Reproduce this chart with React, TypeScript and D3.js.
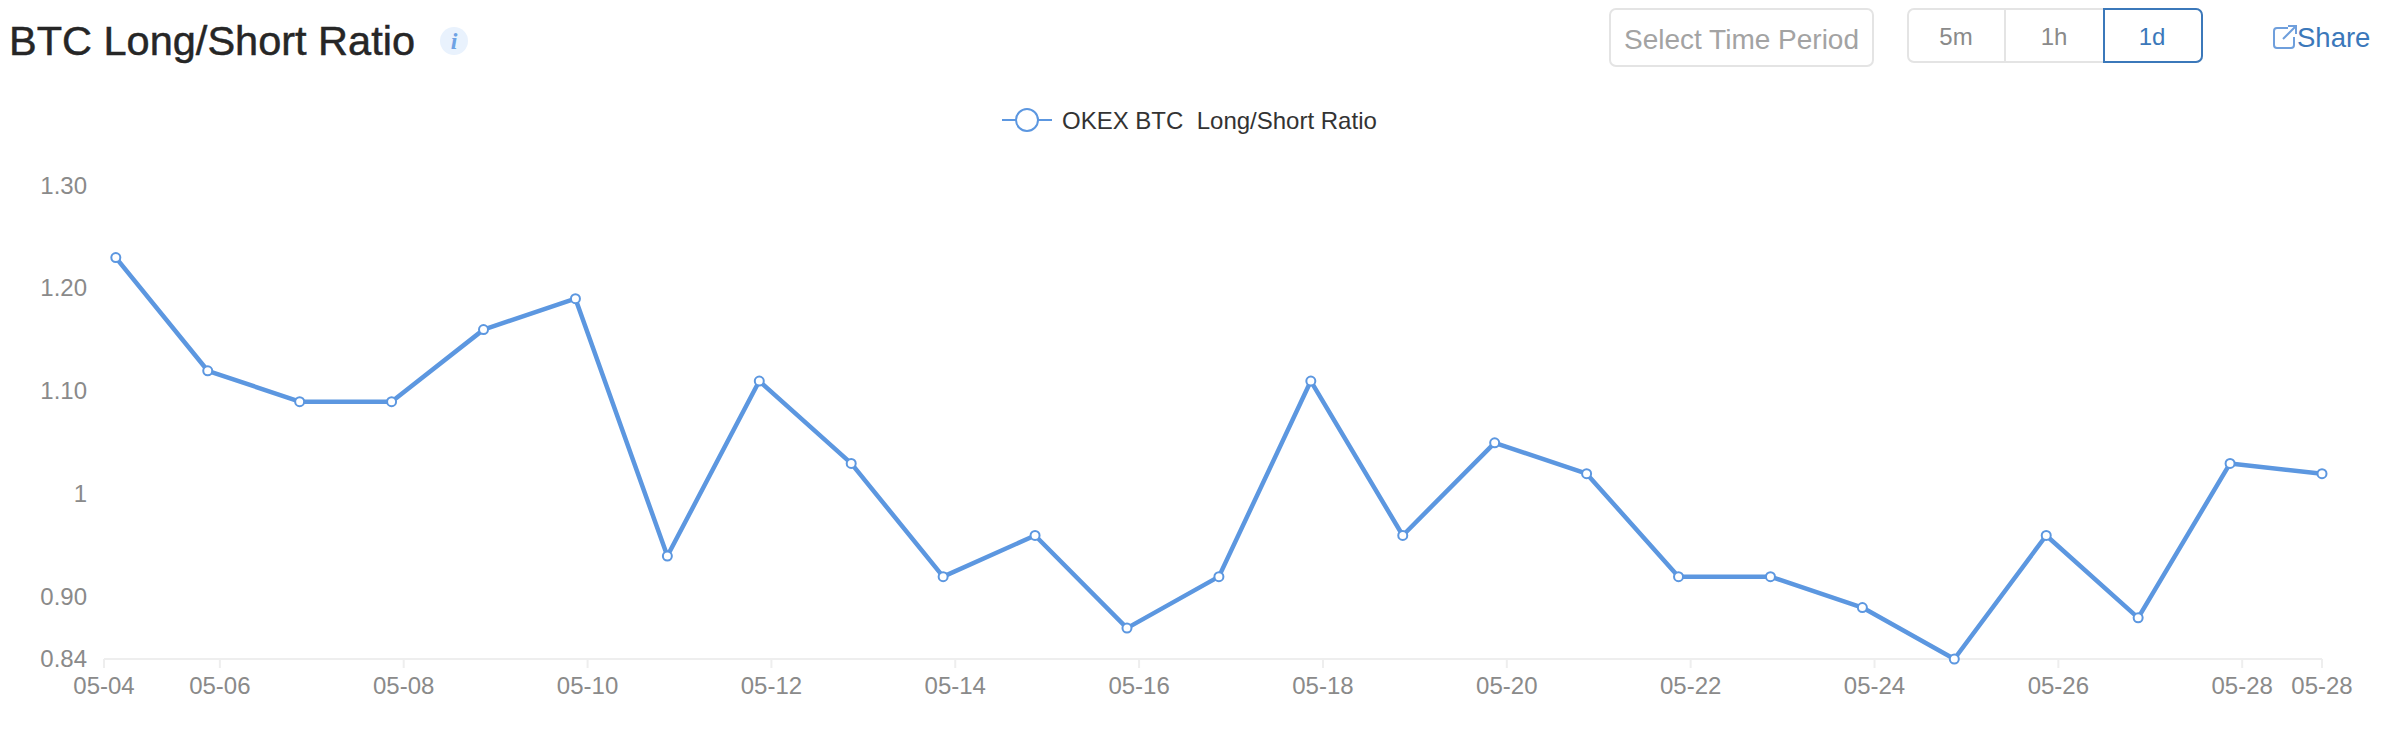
import React from "react";
import * as d3 from "d3";

const W = 2382, H = 744;
const dayLabels = ["05-04","05-05","05-06","05-07","05-08","05-09","05-10","05-11","05-12","05-13","05-14","05-15","05-16","05-17","05-18","05-19","05-20","05-21","05-22","05-23","05-24","05-25","05-26","05-27","05-28"];
const ratioValues = [1.23,1.12,1.09,1.09,1.16,1.19,0.94,1.11,1.03,0.92,0.96,0.87,0.92,1.11,0.96,1.05,1.02,0.92,0.92,0.89,0.84,0.96,0.88,1.03,1.02];
const yTicks = [0.84,0.9,1,1.1,1.2,1.3];
const yTickLabels = ["0.84","0.90","1","1.10","1.20","1.30"];
const xTickDays = ["05-06","05-08","05-10","05-12","05-14","05-16","05-18","05-20","05-22","05-24","05-26","05-28"];
const axisStart = "05-04T17:45";
const sampleTime = "T20:50";
const axisEnd = "05-28T20:50";
const seriesName = "OKEX BTC  Long/Short Ratio";
const buttons = ["5m","1h","1d"];

const parse = (s: string) => new Date(`2021-${s}:00Z`);
const day = (s: string) => new Date(`2021-${s}T00:00:00Z`);

const FONT = "'Liberation Sans', Arial, sans-serif";
const BLUE = "#5c97e0";
const LABEL = "#8a8a8a";
const AXIS = "#eeeeee";

export default function App() {
  const x = d3.scaleUtc().domain([parse(axisStart), parse(axisEnd)]).range([104, 2322]);
  const y = d3.scaleLinear().domain([0.84, 1.3]).range([659, 185.5]);
  const pts = dayLabels.map((d, i) => ({ x: x(parse(d + sampleTime)), y: y(ratioValues[i]) }));
  const line = d3.line<{x:number;y:number}>().x(d => d.x).y(d => d.y)(pts) || "";
  const ticks = [
    { label: "05-04", x: x(parse(axisStart)) },
    ...xTickDays.map(d => ({ label: d, x: x(day(d)) })),
    { label: "05-28", x: x(parse(axisEnd)) },
  ];
  return (
    <svg width={W} height={H} viewBox={`0 0 ${W} ${H}`} style={{ position: "fixed", left: 0, top: 0, background: "#fff" }} fontFamily={FONT}>
      <text x={9} y={55} fontSize={41.5} fill="#262626" stroke="#262626" strokeWidth={0.5}>BTC Long/Short Ratio</text>
      <circle cx={454} cy={41} r={14} fill="#e9f2fd" />
      <text x={454} y={49} fontSize={24} fontFamily="'Liberation Serif', serif" fontStyle="italic" fontWeight="bold" textAnchor="middle" fill="#6ea2e4">i</text>

      <rect x={1610} y={9} width={263} height={57} rx={6} fill="#fff" stroke="#e4e4e4" strokeWidth={2} />
      <text x={1624} y={49} fontSize={28} fill="#a3a3a3">Select Time Period</text>

      <rect x={1908} y={9} width={294} height={53} rx={6} fill="#fff" stroke="#e4e4e4" strokeWidth={2} />
      <line x1={2005} x2={2005} y1={9} y2={62} stroke="#e4e4e4" strokeWidth={2} />
      <path d="M2104 9H2196a6 6 0 0 1 6 6V56a6 6 0 0 1-6 6H2104Z" fill="#fff" stroke="#3b78ba" strokeWidth={2} />
      {buttons.map((b, i) => (
        <text key={b} x={[1956,2054,2152][i]} y={45} fontSize={24} textAnchor="middle" fill={i === 2 ? "#3b78ba" : "#8a8a8a"}>{b}</text>
      ))}
      <g fill="none" stroke="#6f9fdc" strokeWidth={2}>
        <path d="M2288 28H2277a3 3 0 0 0-3 3V45a3 3 0 0 0 3 3H2291a3 3 0 0 0 3-3V37" />
        <path d="M2283 39L2295 27M2288 26H2296V34" />
      </g>
      <text x={2297} y={47} fontSize={27.5} fill="#3b78ba">Share</text>

      <line x1={1002} x2={1052} y1={120} y2={120} stroke={BLUE} strokeWidth={2} />
      <circle cx={1027} cy={120} r={11} fill="#fff" stroke={BLUE} strokeWidth={2} />
      <text x={1062} y={129} fontSize={24} fill="#333" style={{ whiteSpace: "pre" }}>{seriesName}</text>

      {yTicks.map((t, i) => (
        <text key={t} x={87} y={y(t) + 8} fontSize={24} textAnchor="end" fill={LABEL}>{yTickLabels[i]}</text>
      ))}

      <line x1={104} x2={2322} y1={659} y2={659} stroke={AXIS} strokeWidth={2} />
      {ticks.map((t, i) => (
        <g key={i}>
          <line x1={t.x} x2={t.x} y1={659} y2={668} stroke={AXIS} strokeWidth={2} />
          <text x={t.x} y={694} fontSize={24} textAnchor="middle" fill={LABEL}>{t.label}</text>
        </g>
      ))}

      <path d={line} fill="none" stroke={BLUE} strokeWidth={4.5} strokeLinejoin="round" />
      {pts.map((p, i) => (
        <circle key={i} cx={p.x} cy={p.y} r={4.5} fill="#fff" stroke={BLUE} strokeWidth={2} />
      ))}
    </svg>
  );
}
